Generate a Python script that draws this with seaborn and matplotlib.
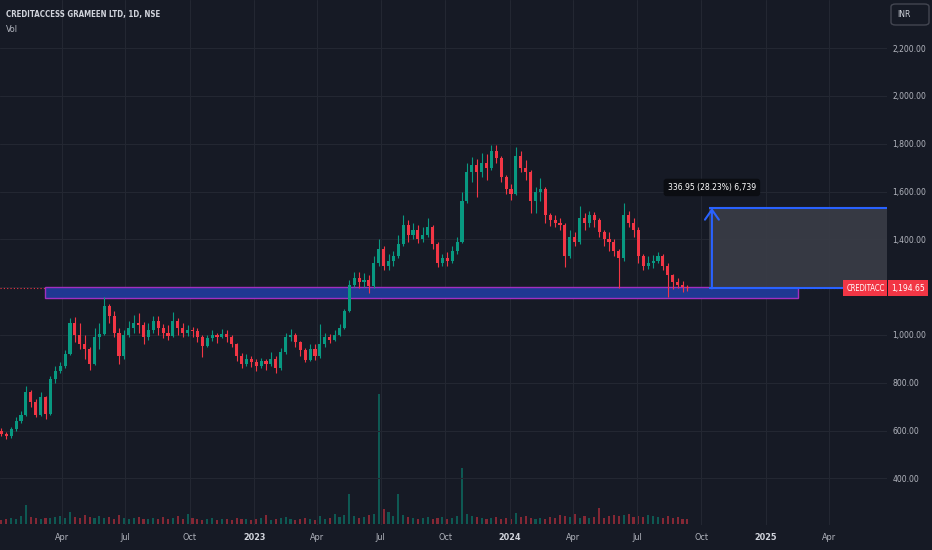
import numpy as np
import pandas as pd
import matplotlib
matplotlib.use('Agg')
import matplotlib.pyplot as plt
import matplotlib.dates as mdates
from matplotlib.patches import Rectangle, FancyBboxPatch
from matplotlib import transforms, font_manager
import seaborn as sns

# weekly candles (week starting Monday)
week_start = '2022-01-03'
opens = [600, 585, 575, 605, 640, 665, 760, 720, 665, 740,
         670, 815, 850, 870, 920, 1050, 1000, 960, 940, 880,
         990, 1005, 1120, 1080, 1010, 910, 1000, 1030, 1050, 1040,
         990, 1020, 1060, 1030, 1010, 995, 1060, 1030, 1010, 1020,
         1015, 990, 955, 985, 1000, 990, 1005, 990, 960, 910,
         880, 900, 885, 870, 890, 880, 900, 860, 930, 990,
         1000, 970, 935, 895, 940, 910, 960, 990, 980, 1000,
         1030, 1100, 1210, 1240, 1220, 1230, 1205, 1300, 1360, 1290,
         1310, 1330, 1380, 1460, 1420, 1440, 1400, 1420, 1450, 1380,
         1300, 1320, 1310, 1350, 1390, 1560, 1680, 1710, 1680, 1720,
         1700, 1770, 1740, 1660, 1610, 1590, 1750, 1700, 1680, 1560,
         1600, 1610, 1500, 1480, 1470, 1460, 1330, 1410, 1390, 1490,
         1470, 1500, 1480, 1430, 1400, 1390, 1350, 1320, 1500, 1470,
         1440, 1330, 1290, 1300, 1310, 1330, 1290, 1250, 1220, 1210,
         1200]
highs = [610, 595, 615, 655, 680, 785, 770, 730, 760, 745,
         830, 870, 885, 935, 1070, 1075, 1050, 1000, 950, 1030,
         1050, 1160, 1130, 1100, 1030, 1020, 1060, 1085, 1090, 1055,
         1050, 1080, 1080, 1045, 1040, 1095, 1070, 1050, 1040, 1035,
         1030, 1000, 1000, 1020, 1010, 1025, 1020, 1000, 965, 925,
         920, 910, 900, 905, 900, 930, 910, 945, 1010, 1025,
         1010, 975, 945, 960, 960, 1045, 1010, 1005, 1020, 1045,
         1110, 1230, 1265, 1265, 1260, 1250, 1330, 1400, 1370, 1340,
         1350, 1420, 1500, 1480, 1470, 1460, 1450, 1490, 1460, 1390,
         1340, 1345, 1370, 1410, 1600, 1720, 1745, 1735, 1760, 1755,
         1795, 1795, 1750, 1670, 1630, 1787, 1770, 1730, 1690, 1620,
         1656, 1620, 1510, 1500, 1490, 1470, 1440, 1430, 1540, 1510,
         1520, 1515, 1490, 1440, 1430, 1400, 1360, 1551, 1520, 1490,
         1450, 1340, 1330, 1335, 1347, 1340, 1300, 1255, 1240, 1225,
         1210]
lows = [575, 565, 570, 600, 630, 660, 700, 655, 660, 650,
        665, 800, 840, 860, 915, 970, 940, 900, 853, 875,
        940, 1000, 1050, 990, 880, 900, 990, 1010, 1010, 960,
        980, 1010, 1000, 985, 980, 990, 1000, 990, 995, 990,
        970, 908, 950, 975, 965, 985, 970, 950, 890, 860,
        870, 865, 850, 860, 855, 870, 840, 855, 920, 975,
        950, 910, 885, 890, 895, 905, 950, 965, 975, 995,
        1025, 1095, 1200, 1195, 1200, 1175, 1195, 1290, 1270, 1270,
        1290, 1320, 1370, 1390, 1400, 1385, 1390, 1410, 1360, 1285,
        1290, 1290, 1300, 1340, 1385, 1550, 1640, 1578, 1660, 1650,
        1690, 1720, 1640, 1590, 1565, 1585, 1680, 1650, 1510, 1510,
        1560, 1467, 1455, 1450, 1440, 1285, 1320, 1370, 1380, 1440,
        1450, 1450, 1410, 1370, 1350, 1330, 1197, 1310, 1450, 1410,
        1300, 1270, 1275, 1280, 1300, 1270, 1160, 1190, 1195, 1180,
        1185]
closes = [585, 575, 605, 640, 665, 760, 720, 665, 740, 670,
          815, 850, 870, 920, 1050, 1000, 960, 940, 880, 990,
          1005, 1120, 1080, 1010, 910, 1000, 1030, 1050, 1040, 990,
          1020, 1060, 1030, 1010, 995, 1060, 1030, 1010, 1020, 1015,
          990, 955, 985, 1000, 990, 1005, 990, 960, 910, 880,
          900, 885, 870, 890, 880, 900, 860, 930, 990, 1000,
          970, 935, 895, 940, 910, 960, 990, 980, 1000, 1030,
          1100, 1210, 1240, 1220, 1230, 1205, 1300, 1360, 1290, 1310,
          1330, 1380, 1460, 1420, 1440, 1400, 1420, 1450, 1380, 1300,
          1320, 1310, 1350, 1390, 1560, 1680, 1710, 1680, 1720, 1700,
          1770, 1740, 1660, 1610, 1590, 1750, 1700, 1680, 1560, 1600,
          1610, 1500, 1480, 1470, 1460, 1330, 1410, 1390, 1490, 1470,
          1500, 1480, 1430, 1400, 1390, 1350, 1320, 1500, 1470, 1440,
          1330, 1290, 1300, 1310, 1330, 1290, 1250, 1220, 1210, 1200,
          1194.65]
# volume (relative units)
volumes = [4, 5, 6, 5, 8, 19, 7, 6, 5, 6,
           6, 7, 8, 6, 12, 7, 6, 9, 7, 6,
           8, 6, 7, 5, 9, 6, 5, 6, 7, 5,
           5, 6, 5, 7, 5, 6, 8, 5, 10, 6,
           5, 4, 5, 6, 4, 5, 5, 4, 6, 5,
           5, 4, 5, 6, 9, 4, 5, 6, 7, 5,
           4, 5, 6, 5, 4, 8, 5, 6, 10, 7,
           9, 30, 8, 6, 7, 9, 10, 130, 15, 12,
           8, 30, 9, 7, 6, 5, 6, 7, 5, 6,
           7, 5, 6, 8, 56, 10, 8, 7, 6, 5,
           6, 7, 5, 6, 5, 11, 7, 8, 6, 5,
           6, 5, 7, 6, 9, 8, 7, 10, 6, 8,
           6, 7, 16, 6, 8, 9, 8, 9, 10, 7,
           8, 7, 9, 8, 7, 6, 8, 6, 7, 5,
           5]

last_price = 1194.65
range_change = 336.95
range_label = '336.95 (28.23%) 6,739'
zone_low, zone_high = 1155, 1200
zone_start, zone_end = '2022-03-08', '2025-02-16'
range_start = '2024-10-12'

tick_dates = ['2022-04-01', '2022-07-01', '2022-10-01', '2023-01-01', '2023-04-01',
              '2023-07-01', '2023-10-01', '2024-01-01', '2024-04-01', '2024-07-01',
              '2024-10-01', '2025-01-01', '2025-04-01']
tick_labels = ['Apr', 'Jul', 'Oct', '2023', 'Apr', 'Jul', 'Oct', '2024', 'Apr', 'Jul',
               'Oct', '2025', 'Apr']
price_ticks = [400, 600, 800, 1000, 1200, 1400, 1600, 1800, 2000, 2200]

bg = '#161a25'
grid_c = '#232732'
up_c = '#089981'
down_c = '#f23645'
blue = '#2962ff'
text_c = '#b2b5be'

sns.set_theme(style='dark', rc={'figure.facecolor': bg, 'axes.facecolor': bg,
                                'axes.edgecolor': bg, 'grid.color': grid_c})

# a narrow face looks closest to the TradingView labels, if one is installed
narrow = [f for f in font_manager.fontManager.ttflist
          if f.style == 'normal' and ('Narrow' in f.name or 'Condensed' in f.name
                                      or f.stretch in ('condensed', 'semi-condensed'))]
if narrow:
    plt.rcParams['font.family'] = [narrow[0].name, 'DejaVu Sans']
    plt.rcParams['font.stretch'] = narrow[0].stretch
    fs = 0.95
else:
    plt.rcParams['font.family'] = ['Liberation Sans', 'DejaVu Sans']
    fs = 0.85

df = pd.DataFrame({'open': opens, 'high': highs, 'low': lows, 'close': closes,
                   'volume': volumes})
df['date'] = pd.date_range(week_start, periods=len(df), freq='7D') + pd.Timedelta(days=2)
x = mdates.date2num(df['date'])
o = df['open'].to_numpy()
c = df['close'].to_numpy()
colors = np.where(c >= o, up_c, down_c)

x0 = mdates.date2num(pd.Timestamp(week_start))
fig = plt.figure(figsize=(9.32, 5.5), dpi=100)
ax = fig.add_axes([0, 25 / 550, 887 / 932, 525 / 550])
axv = ax.twinx()
ax.set_zorder(axv.get_zorder() + 1)
ax.patch.set_visible(False)

# volume
axv.bar(x, df['volume'], width=3, color=colors, alpha=0.5, linewidth=0)
axv.set_ylim(-1, 524)
axv.set_yticks([])
axv.grid(False)
for s in axv.spines.values():
    s.set_visible(False)

# price line and support zone
ax.axhline(last_price, color=down_c, lw=0.8, ls=(0, (1, 2)), zorder=2)
zs, ze = mdates.date2num(pd.Timestamp(zone_start)), mdates.date2num(pd.Timestamp(zone_end))
ax.add_patch(Rectangle((zs, zone_low), ze - zs, zone_high - zone_low, fc='#1f3892',
                       ec='#a22fc0', lw=1, zorder=3))

# candles
ax.vlines(x, df['low'], df['high'], colors=colors, lw=0.8, zorder=4)
ax.bar(x, np.maximum(np.abs(c - o), 1.5), bottom=np.minimum(o, c), width=4.4,
       color=colors, linewidth=0, zorder=5)

# price range tool
xend = x0 + 887 / 0.7
rs = mdates.date2num(pd.Timestamp(range_start))
top = last_price + range_change
ax.add_patch(Rectangle((rs, last_price), xend - rs, range_change, fc='#3a3d47', ec='none',
                       alpha=0.9, zorder=3))
ax.hlines([top, last_price], rs, xend, color=blue, lw=1.5, zorder=6)
xa = rs + 4
ax.annotate('', xy=(xa, top), xytext=(xa, last_price),
            arrowprops=dict(arrowstyle='->,head_length=0.36,head_width=0.25', color=blue,
                            lw=1.5, mutation_scale=20, shrinkA=0, shrinkB=0), zorder=6)
ax.text(xa, 1617, range_label, ha='center', va='center', color='white', fontsize=6.4 * fs,
        zorder=7, bbox=dict(boxstyle='round,pad=0.5,rounding_size=0.35', fc='#0b0d12', ec='none'))

# axes
ax.set_xlim(x0, xend)
ax.set_ylim(204.6, 2401.3)
ax.set_yticks(price_ticks)
ax.set_yticklabels(['' if v == 1200 else f'{v:,.2f}' for v in price_ticks])
ax.yaxis.tick_right()
ax.set_xticks(mdates.date2num(pd.to_datetime(tick_dates)))
ax.set_xticklabels(tick_labels)
ax.tick_params(axis='both', length=0, labelcolor=text_c)
ax.tick_params(axis='y', pad=4, labelsize=6.4 * fs)
ax.tick_params(axis='x', pad=6, labelsize=6.8 * fs)
for lab in ax.get_xticklabels():
    if lab.get_text().isdigit():
        lab.set_fontweight('bold')
        lab.set_color('#d1d4dc')
ax.grid(True, color=grid_c, lw=0.8)
for s in ax.spines.values():
    s.set_visible(False)

# last price labels
tr = transforms.blended_transform_factory(ax.transAxes, ax.transData)
h = 16 / 0.239
ax.add_patch(Rectangle((843 / 887, last_price - h / 2), 44 / 887, h, transform=tr,
                       fc=down_c, ec='none', clip_on=False, zorder=8))
ax.add_patch(Rectangle((888 / 887, last_price - h / 2), 40 / 887, h, transform=tr,
                       fc=down_c, ec='none', clip_on=False, zorder=8))
ax.text(865.5 / 887, last_price, 'CREDITACC', transform=tr, ha='center', va='center',
        color='white', fontsize=5.8 * fs, zorder=9, clip_on=False)
ax.text(908 / 887, last_price, f'{last_price:,.2f}', transform=tr, ha='center', va='center',
        color='white', fontsize=6.4 * fs, zorder=9, clip_on=False)

# header
fig.text(6 / 932, 1 - 15 / 550, 'CREDITACCESS GRAMEEN LTD, 1D, NSE', ha='left', va='center',
         color='#d1d4dc', fontsize=6.0 * fs, fontweight='bold')
fig.text(6 / 932, 1 - 30 / 550, 'Vol', ha='left', va='center', color=text_c, fontsize=6.8 * fs)
fig.add_artist(FancyBboxPatch((891 / 932, 1 - 25 / 550), 38 / 932, 21 / 550,
                              boxstyle='round,pad=0,rounding_size=0.005',
                              transform=fig.transFigure, fc='none', ec='#434651', lw=1))
fig.text(897 / 932, 1 - 14.5 / 550, 'INR', ha='left', va='center', color='#d1d4dc',
         fontsize=6.4 * fs)

fig.savefig('out.png', dpi=100, facecolor=bg)
